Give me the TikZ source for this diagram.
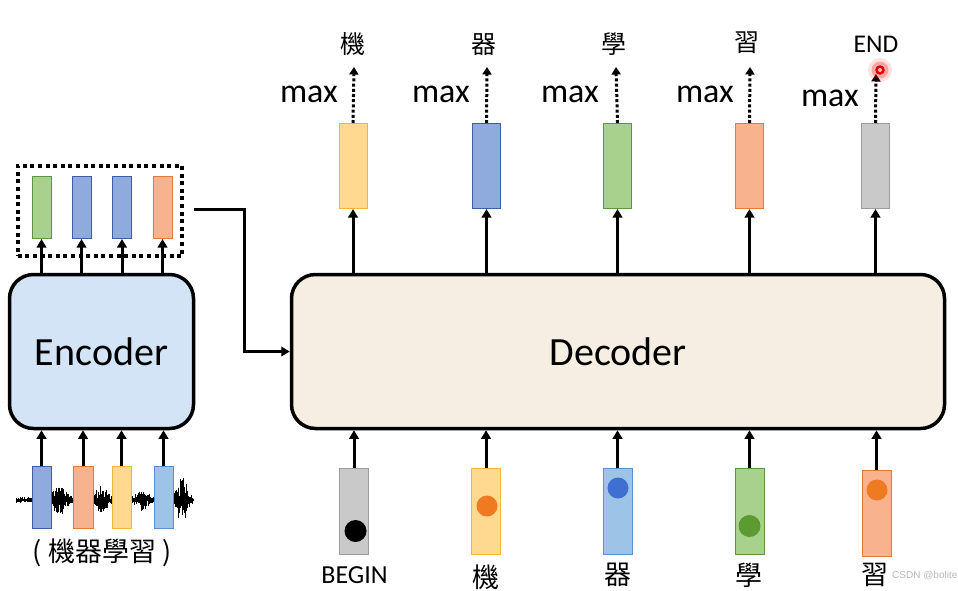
\documentclass[tikz,border=0pt]{standalone}
\usepackage{fontspec}
\setmainfont{Carlito}
\newfontfamily\cjk{Noto Sans CJK TC}
\newfontfamily\wmfont{Liberation Sans}
\usetikzlibrary{arrows.meta}
\definecolor{encfill}{HTML}{D2E4F6}
\definecolor{decfill}{HTML}{F6EEE3}
\definecolor{yelF}{HTML}{FFD98F}\definecolor{yelD}{HTML}{F2B63A}
\definecolor{bluF}{HTML}{8FAADC}\definecolor{bluD}{HTML}{3B5EA6}
\definecolor{lbluF}{HTML}{9DC3E6}\definecolor{lbluD}{HTML}{5B8FD0}
\definecolor{grnF}{HTML}{A9D18E}\definecolor{grnD}{HTML}{5E9540}
\definecolor{orgF}{HTML}{F8B38E}\definecolor{orgD}{HTML}{E57A36}
\definecolor{gryF}{HTML}{C9C9C9}\definecolor{gryD}{HTML}{9C9C9C}
\definecolor{dotO}{HTML}{F07A22}
\definecolor{dotB}{HTML}{3F6FD0}
\definecolor{dotG}{HTML}{5C9A32}
\tikzset{
  mainbox/.style={draw, line width=3.5pt, rounded corners=24pt, inner sep=0pt},
  bar/.style={draw, line width=1pt, inner sep=0pt},
  ebar/.style={bar, minimum width=19pt, minimum height=62pt},
  dbar/.style={bar, minimum width=28pt, minimum height=85pt},
  arr/.style={line width=3pt, -{Triangle[length=8.5pt,width=9.5pt]}},
  darr/.style={line width=3pt, dash pattern=on 3pt off 2.2pt, -{Triangle[length=7.5pt,width=9pt]}},
  cjklab/.style={font=\cjk\fontsize{25}{28}\selectfont, inner sep=0pt},
  maxlab/.style={font=\fontsize{34}{38}\selectfont, inner sep=0pt, anchor=base},
}
\begin{document}
\begin{tikzpicture}[x=1pt,y=-1pt]
\useasboundingbox (0,0) rectangle (958,590);
\fill[white] (0,0) rectangle (958,590);

% ---------------- Encoder side ----------------
\node[mainbox, fill=encfill, minimum width=184pt, minimum height=154pt,
      font=\fontsize{40}{44}\selectfont] (enc) at (101.5,351.5) {Encoder};

% dotted box with encoder outputs
\node[draw, line width=4pt, dash pattern=on 4pt off 3.6pt, minimum width=164.5pt,
      minimum height=90.5pt, inner sep=0pt] (dbox) at (100,211) {};
\node[ebar, fill=grnF, draw=grnD] (eo1) at (41.5,207.5) {};
\node[ebar, fill=bluF, draw=bluD] (eo2) at (81.5,207.5) {};
\node[ebar, fill=bluF, draw=bluD] (eo3) at (122,207.5) {};
\node[ebar, fill=orgF, draw=orgD] (eo4) at (162.5,207.5) {};
\foreach \k in {1,...,4}{
  \draw[arr] (eo\k |- enc.north) -- (eo\k.south);
}

% waveform
\pgfmathsetseed{11}
\foreach \i in {0,...,340}{
  \pgfmathsetmacro\xx{16+0.52*\i}
  \pgfmathsetmacro\env{3+13*exp(-min(((\xx-59)/8)^2,20))+12*exp(-min(((\xx-101)/7)^2,20))+8*exp(-min(((\xx-142)/7)^2,20))+22*exp(-min(((\xx-182)/6)^2,20))}
  \pgfmathsetmacro\ra{\env*(0.15+0.85*rnd)}
  \pgfmathsetmacro\rb{\env*(0.15+0.85*rnd)}
  \draw[line width=0.6pt] (\xx,500-\ra) -- (\xx,500+\rb);
}
\node[ebar, fill=bluF, draw=bluD] (ei1) at (41.5,497) {};
\node[ebar, fill=orgF, draw=orgD, minimum width=20pt] (ei2) at (83,497) {};
\node[ebar, fill=yelF, draw=yelD] (ei3) at (121.5,497) {};
\node[ebar, fill=lbluF, draw=lbluD] (ei4) at (163.5,497) {};
\foreach \k in {1,...,4}{
  \draw[arr] (ei\k.north) -- (ei\k |- enc.south);
}
\node[font=\cjk\fontsize{27}{28}\selectfont, inner sep=0pt] (src) at (102,553) {( 機器學習 )};

% ---------------- Decoder ----------------
\node[mainbox, fill=decfill, minimum width=653pt, minimum height=154pt,
      font=\fontsize{40}{44}\selectfont] (dec) at (618,351.5) {Decoder};

\coordinate (bend) at (244,209);
\draw[arr] ([xshift=10pt]dbox.east |- bend) -- (bend) |- (dec.west);

% decoder outputs
\node[dbar, fill=yelF, draw=yelD] (o1) at (353,166) {};
\node[dbar, fill=bluF, draw=bluD] (o2) at (486.5,166) {};
\node[dbar, fill=grnF, draw=grnD] (o3) at (617.5,166) {};
\node[dbar, fill=orgF, draw=orgD] (o4) at (749.5,166) {};
\node[dbar, fill=gryF, draw=gryD] (o5) at (875.5,166) {};
\foreach \k in {1,...,5}{
  \draw[arr] (o\k |- dec.north) -- (o\k.south);
}

% output labels
\node[cjklab] (t1) at (353,44.5) {機};
\node[cjklab] (t2) at (484,44.5) {器};
\node[cjklab] (t3) at (614,44.5) {學};
\node[cjklab] (t4) at (747,43) {習};
\node[font=\fontsize{25.5}{28}\selectfont, inner sep=0pt] (t5) at (876,44) {END};

\coordinate (d1) at (354,67);
\coordinate (d2) at (487,67);
\coordinate (d3) at (616,67);
\coordinate (d4) at (750,67);
\coordinate (d5) at (876,74);
\draw[darr] (o1.north) -- (d1);
\draw[darr] (o2.north) -- (d2);
\draw[darr] (o3.north) -- (d3);
\draw[darr] (o4.north) -- (d4);
\draw[darr] (o5.north) -- (d5);

\node[maxlab] (m1) at (309,102) {max};
\node[maxlab] (m2) at (441,102) {max};
\node[maxlab] (m3) at (570,102) {max};
\node[maxlab] (m4) at (705,102) {max};
\node[maxlab] (m5) at (830,106) {max};

% red pointer dot
\fill[red, opacity=0.12] (880,70) circle (12pt);
\fill[red, opacity=0.25] (880,70) circle (8.5pt);
\fill[red!90!black] (880,70) circle (4.8pt);
\fill[red!25!white] (880,70) circle (2pt);

% decoder inputs
\node[dbar, fill=gryF, draw=gryD, minimum width=29pt, minimum height=86pt] (i1) at (354,511) {};
\node[dbar, fill=yelF, draw=yelD, minimum width=29pt, minimum height=86pt] (i2) at (486,511) {};
\node[dbar, fill=lbluF, draw=lbluD, minimum width=29pt, minimum height=86pt] (i3) at (617.5,511) {};
\node[dbar, fill=grnF, draw=grnD, minimum width=29pt, minimum height=86pt] (i4) at (749.5,511) {};
\node[dbar, fill=orgF, draw=orgD, minimum width=29pt, minimum height=86pt] (i5) at (876.5,513.5) {};
\foreach \k in {1,...,5}{
  \draw[arr] (i\k.north) -- (i\k |- dec.south);
}
\fill[black] (355.5,531) circle (11pt);
\fill[dotO] (487,506) circle (10.5pt);
\fill[dotB] (618,488) circle (10.5pt);
\fill[dotG] (749.5,526) circle (11pt);
\fill[dotO] (877,490) circle (10.5pt);

% watermark
\node[font=\wmfont\fontsize{10}{12}\selectfont, text=gray!55, anchor=west, inner sep=0pt] (wm) at (892,576) {CSDN @bolite};

% bottom labels
\node[font=\fontsize{26}{28}\selectfont, inner sep=0pt, anchor=base] (b1) at (354.5,583) {BEGIN};
\node[font=\cjk\fontsize{27}{28}\selectfont, inner sep=0pt] (b2) at (486,577) {機};
\node[font=\cjk\fontsize{27}{28}\selectfont, inner sep=0pt] (b3) at (617.5,575) {器};
\node[font=\cjk\fontsize{27}{28}\selectfont, inner sep=0pt] (b4) at (749,575) {學};
\node[font=\cjk\fontsize{27}{28}\selectfont, inner sep=0pt] (b5) at (875,575) {習};
\end{tikzpicture}
\end{document}
